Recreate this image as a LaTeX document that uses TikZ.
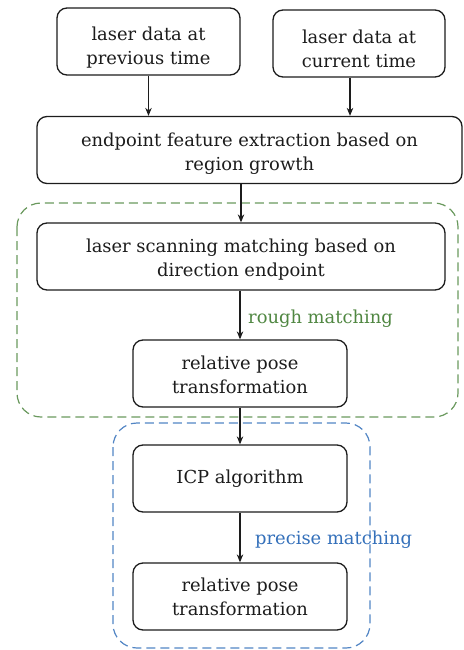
\documentclass[tikz,border=0pt]{standalone}
\usepackage{fontspec}
\setmainfont{DejaVu Serif}
\usetikzlibrary{arrows.meta}
\definecolor{roughgreen}{RGB}{80,135,66}
\definecolor{precblue}{RGB}{52,112,186}
\definecolor{inkgray}{RGB}{28,28,28}
% push a node's text block down by #1 (extra height on its first line)
\newcommand\pushdown[1]{\raisebox{0pt}[\dimexpr\height+2\dimexpr#1\relax\relax][0pt]{\vphantom{l}}}
\begin{document}
\begin{tikzpicture}[x=1pt,y=-1pt,
  stepbox/.style={draw=inkgray,line width=1.3pt,rounded corners=10pt,
    align=center,text=inkgray,font=\fontsize{17.9}{24}\selectfont,
    inner sep=0pt,minimum height=67pt},
  flow/.style={draw=inkgray,line width=1.1pt,-{Stealth[length=8pt,width=6.5pt]}},
  groupbox/.style={dashed,dash pattern=on 9pt off 5pt,line width=1.2pt,rounded corners=24pt},
  grouplabel/.style={anchor=west,font=\fontsize{17.9}{20}\selectfont,inner sep=0pt}]
\useasboundingbox (0,0) rectangle (463,650);

% matching stages
\draw[groupbox,draw=roughgreen!85] (17,203) rectangle (458,417);
\draw[groupbox,draw=precblue!85] (113,423) rectangle (370,648);

% process steps
\node[stepbox,minimum width=183pt] (prev) at (148.5,41.5) {\pushdown{6pt}laser data at\\previous time};
\node[stepbox,minimum width=172pt] (curr) at (359,43.5) {\pushdown{5pt}laser data at\\current time};
\node[stepbox,minimum width=425pt] (feat) at (249.5,150) {\pushdown{4pt}endpoint feature extraction based on\\region growth};
\node[stepbox,minimum width=408pt] (scan) at (241,256.5) {\pushdown{3pt}laser scanning matching based on\\direction endpoint};
\node[stepbox,minimum width=214pt] (pose1) at (240,373.5) {\pushdown{1pt}relative pose\\transformation};
\node[stepbox,minimum width=214pt] (icp) at (240,478.5) {ICP algorithm};
\node[stepbox,minimum width=214pt] (pose2) at (240,596.5) {relative pose\\transformation};

% connectors
\draw[flow] (prev.south) -- (prev.south |- feat.north);
\draw[flow] ([xshift=-9pt]curr.south) -- ([xshift=-9pt]curr.south |- feat.north);
\draw[flow] (feat.south -| scan.north) -- (scan.north);
\draw[flow] (scan.south -| pose1.north) -- (pose1.north);
\draw[flow] (pose1.south) -- (icp.north);
\draw[flow] (icp.south) -- (pose2.north);

% stage labels
\node[grouplabel,text=roughgreen] (roughlbl) at (248,319) {rough matching};
\node[grouplabel,text=precblue] (preclbl) at (255,540) {precise matching};
\end{tikzpicture}
\end{document}
